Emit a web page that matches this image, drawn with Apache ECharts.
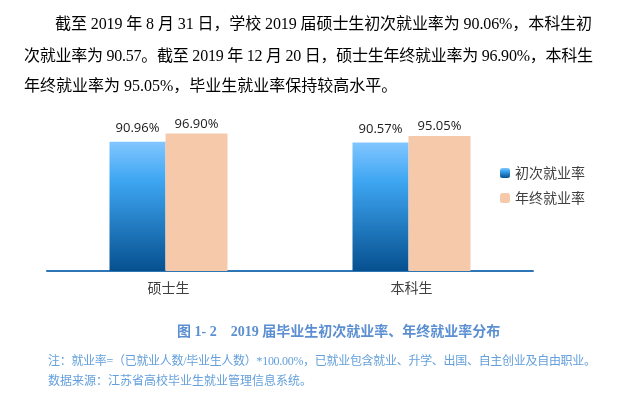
<!DOCTYPE html>
<html>
<head>
<meta charset="utf-8">
<script src="https://cdn.jsdelivr.net/npm/echarts@6/dist/echarts.min.js"></script>
<style>
html,body{margin:0;padding:0;background:#fff;}
#c{width:624px;height:404px;}
</style>
</head>
<body>
<div id="c"></div>
<script>
const categories = ['硕士生', '本科生'];
const seriesNames = ['初次就业率', '年终就业率'];
const initialRate = [90.96, 90.57];
const finalRate = [96.90, 95.05];
const paragraphLines = [
  '截至 2019 年 8 月 31 日，学校 2019 届硕士生初次就业率为 90.06%，本科生初',
  '次就业率为 90.57。截至 2019 年 12 月 20 日，硕士生年终就业率为 96.90%，本科生',
  '年终就业率为 95.05%，毕业生就业率保持较高水平。'
];
const captionText = '图 1- 2    2019 届毕业生初次就业率、年终就业率分布';
const noteLines = [
  '注：就业率=（已就业人数/毕业生人数）*100.00%，已就业包含就业、升学、出国、自主创业及自由职业。',
  '数据来源：江苏省高校毕业生就业管理信息系统。'
];

const serifFont = '"Liberation Serif", "Times New Roman", "Noto Sans CJK SC", serif';
const sansFont = '"Noto Sans CJK SC", sans-serif';
const chart = echarts.init(document.getElementById('c'));

const measureCtx = document.createElement('canvas').getContext('2d');
// place a line of text, optionally justified to a target right edge
function textLine(text, x, y, font, fill, rightEdge) {
  const out = [];
  if (!rightEdge) {
    out.push({type: 'text', x: x, y: y, silent: true,
      style: {text: text, font: font, fill: fill, verticalAlign: 'middle'}});
    return out;
  }
  measureCtx.font = font;
  const chars = Array.from(text);
  const widths = chars.map(c => measureCtx.measureText(c).width);
  const natural = widths.reduce((a, b) => a + b, 0);
  const extra = chars.length > 1 ? ((rightEdge - x) - natural) / (chars.length - 1) : 0;
  let cx = x;
  chars.forEach((c, i) => {
    if (c !== ' ') {
      out.push({type: 'text', x: cx, y: y, silent: true,
        style: {text: c, font: font, fill: fill, verticalAlign: 'middle'}});
    }
    cx += widths[i] + extra;
  });
  return out;
}

const graphics = [];
const paraFont = '16px ' + serifFont;
const paraX = [55, 24, 24];
const paraY = [25, 57, 87];
const paraRight = [592, 593, null];
paragraphLines.forEach((t, i) => {
  graphics.push(...textLine(t, paraX[i], paraY[i], paraFont, '#000', paraRight[i]));
});
graphics.push(...textLine(captionText, 177, 332, 'bold 14px ' + serifFont, '#5b8fd2', null));
const noteY = [362, 382];
const noteRight = [596, null];
noteLines.forEach((t, i) => {
  graphics.push(...textLine(t, 48, noteY[i], '12px ' + serifFont, '#64a0dc', noteRight[i]));
});

chart.setOption({
  animation: false,
  grid: {left: 47, right: 91, top: 129, bottom: 133},
  legend: {
    orient: 'vertical', left: 500, top: 166, padding: 0, itemWidth: 10, itemHeight: 10, itemGap: 11,
    textStyle: {fontSize: 14, color: '#404040', fontFamily: sansFont},
    data: seriesNames
  },
  xAxis: {
    type: 'category', data: categories,
    axisLine: {lineStyle: {color: '#2E75B6', width: 2}},
    axisTick: {show: false},
    axisLabel: {fontSize: 14, color: '#404040', fontFamily: sansFont, margin: 10}
  },
  yAxis: {type: 'value', min: 0, max: 100, show: false, splitLine: {show: false}},
  series: [
    {
      name: seriesNames[0], type: 'bar', data: initialRate, barWidth: 56, barGap: '0%',
      itemStyle: {
        color: new echarts.graphic.LinearGradient(0, 0, 0, 1, [
          {offset: 0, color: '#82c6ff'},
          {offset: 0.3, color: '#3ea6f2'},
          {offset: 1, color: '#06508f'}
        ])
      },
      label: {show: true, position: 'top', distance: 7, formatter: p => p.value.toFixed(2) + '%',
        fontSize: 13, color: '#1a1a1a', fontFamily: '"Open Sans", sans-serif'}
    },
    {
      name: seriesNames[1], type: 'bar', data: finalRate, barWidth: 62,
      itemStyle: {color: '#f6c9ab'},
      label: {show: true, position: 'top', distance: 3, formatter: p => p.value.toFixed(2) + '%',
        fontSize: 13, color: '#1a1a1a', fontFamily: '"Open Sans", sans-serif'}
    }
  ],
  graphic: graphics
});
</script>
</body>
</html>
